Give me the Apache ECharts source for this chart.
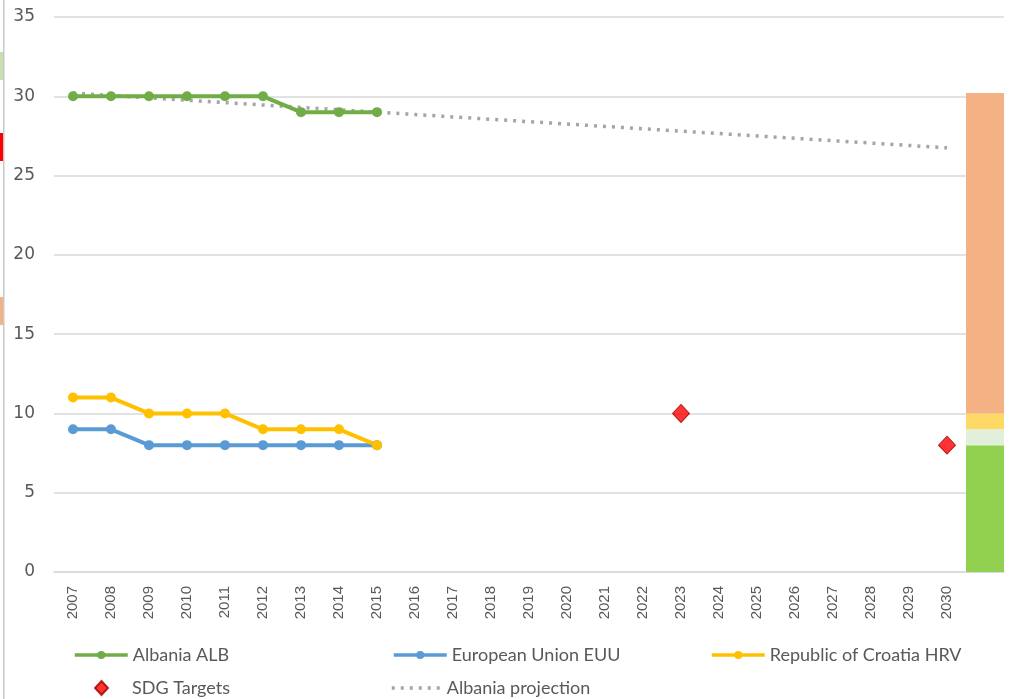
<!DOCTYPE html>
<html>
<head>
<meta charset="utf-8">
<script src="https://cdn.jsdelivr.net/npm/echarts@6/dist/echarts.min.js"></script>
<style>
  html, body { margin: 0; padding: 0; background: #fff; }
  #chart { width: 1023px; height: 699px; }
</style>
</head>
<body>
<div id="chart"></div>
<script>
// years + one empty slot for the target band bar
const years = ['2007','2008','2009','2010','2011','2012','2013','2014','2015','2016','2017','2018',
  '2019','2020','2021','2022','2023','2024','2025','2026','2027','2028','2029','2030',''];

const albania = [30, 30, 30, 30, 30, 30, 29, 29, 29];
const eu = [9, 9, 8, 8, 8, 8, 8, 8, 8];
const croatia = [11, 11, 10, 10, 10, 9, 9, 9, 8];
// SDG targets (2023, 2030)
const sdgTargets = [['2023', 10], ['2030', 8]];
const projection = [30.2, 30.05, 29.9, 29.75, 29.6, 29.45, 29.3, 29.15, 29.0, 28.85, 28.7, 28.55,
  28.4, 28.25, 28.1, 27.95, 27.8, 27.65, 27.5, 27.35, 27.2, 27.05, 26.9, 26.75];

// stacked band at the right end
const bandGreen = 8;
const bandLight = 1;
const bandYellow = 1;
const bandOrange = 20.2;

const chart = echarts.init(document.getElementById('chart'));

const bandSeries = (name, value, color) => ({
  name: name,
  type: 'bar',
  stack: 'band',
  barWidth: '100%',
  silent: true,
  data: years.map((y, i) => i === years.length - 1 ? value : null),
  itemStyle: { color: color },
  z: 1
});

const lineSeries = (name, data, color) => ({
  name: name,
  type: 'line',
  data: data,
  symbol: 'circle',
  symbolSize: 10,
  lineStyle: { width: 4, color: color },
  itemStyle: { color: color },
  z: 3
});

const legendText = { fontFamily: 'Lato', fontSize: 18, color: '#595959' };
const legendBase = {
  padding: 0, itemWidth: 53, itemHeight: 10, textStyle: legendText,
  lineStyle: { width: 3.5 }
};

const option = {
  animation: false,
  textStyle: { fontFamily: 'Liberation Sans' },
  grid: { left: 54, right: 19, top: 17, bottom: 127 },
  legend: [
    Object.assign({}, legendBase, { left: 73, top: 646, data: ['Albania ALB'] }),
    Object.assign({}, legendBase, { left: 392, top: 646, data: ['European Union EUU'] }),
    Object.assign({}, legendBase, { left: 710, top: 646, data: ['Republic of Croatia HRV'] }),
    Object.assign({}, legendBase, {
      left: 94, top: 679, itemWidth: 13, itemHeight: 14,
      textStyle: Object.assign({}, legendText, { padding: [0, 0, 0, 19] }),
      data: ['SDG Targets']
    }),
    Object.assign({}, legendBase, {
      left: 390, top: 679, itemWidth: 50,
      itemStyle: { opacity: 0 },
      data: ['Albania projection']
    })
  ],
  xAxis: {
    type: 'category',
    data: years,
    boundaryGap: true,
    axisLine: { lineStyle: { color: '#D9D9D9', width: 1.5 } },
    axisTick: { show: false },
    axisLabel: { rotate: 90, interval: 0, fontSize: 15, color: '#595959', margin: 14 }
  },
  yAxis: {
    type: 'value',
    min: 0,
    max: 35,
    interval: 5,
    axisLine: { show: false },
    axisTick: { show: false },
    axisLabel: { fontFamily: 'DejaVu Sans', fontSize: 17, color: '#595959', margin: 19 },
    splitLine: { lineStyle: { color: '#D9D9D9', width: 1.5 } }
  },
  series: [
    bandSeries('band0', bandGreen, '#92D050'),
    bandSeries('band1', bandLight, '#E2EFDA'),
    bandSeries('band2', bandYellow, '#FFD966'),
    bandSeries('band3', bandOrange, '#F4B183'),
    {
      name: 'Albania projection',
      type: 'line',
      data: projection,
      symbol: 'none',
      lineStyle: { width: 3.5, color: '#A5A5A5', type: [3, 6] },
      itemStyle: { color: '#A5A5A5' },
      z: 2
    },
    lineSeries('Albania ALB', albania, '#70AD47'),
    lineSeries('European Union EUU', eu, '#5B9BD5'),
    lineSeries('Republic of Croatia HRV', croatia, '#FFC000'),
    {
      name: 'SDG Targets',
      type: 'scatter',
      data: sdgTargets,
      symbol: 'diamond',
      symbolSize: [17, 18],
      itemStyle: { color: '#FF0000', borderColor: '#A00000', borderWidth: 1 },
      z: 4
    }
  ],
  // spreadsheet edge left in the screenshot
  graphic: [
    { type: 'rect', shape: { x: 3, y: 0, width: 1.5, height: 699 }, style: { fill: '#C8C8C8' } },
    { type: 'rect', shape: { x: 0, y: 52, width: 3, height: 28 }, style: { fill: '#C6E0B4' } },
    { type: 'rect', shape: { x: 0, y: 133, width: 3, height: 28 }, style: { fill: '#FF0000' } },
    { type: 'rect', shape: { x: 0, y: 297, width: 3, height: 28 }, style: { fill: '#F4B183' } }
  ]
};

chart.setOption(option);
</script>
</body>
</html>
